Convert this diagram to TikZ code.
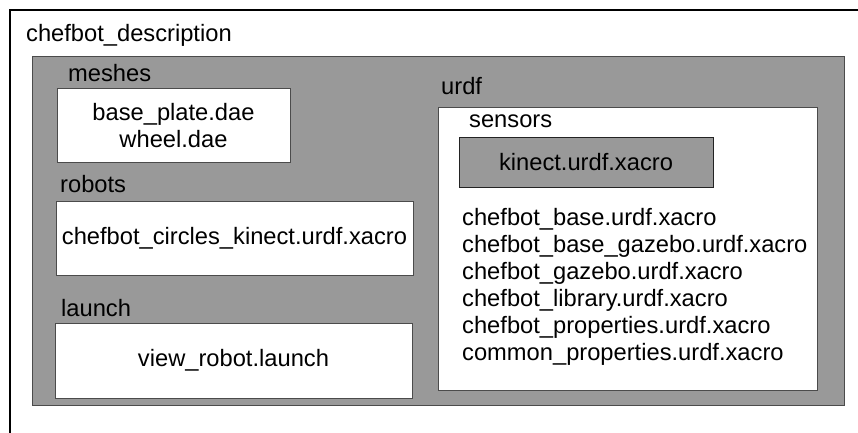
\documentclass[tikz,border=0pt]{standalone}
\usepackage{fontspec}
\setmainfont{Liberation Sans}
\usetikzlibrary{positioning}
\definecolor{boxgray}{RGB}{153,153,153}
\definecolor{edgegray}{RGB}{75,75,75}
\definecolor{edgedark}{RGB}{35,35,35}
\tikzset{
    txt/.style      = {font=\fontsize{23.7}{27}\selectfont, inner sep=0pt},
    dirname/.style  = {txt, anchor=base west},
    fileline/.style = {txt, anchor=base west},
    graybox/.style  = {draw=edgegray, fill=boxgray, line width=1pt, inner sep=0pt},
    whitebox/.style = {draw=edgegray, fill=white, line width=1pt,
            align=center, txt},
    sensorbox/.style = {draw=edgedark, fill=boxgray, line width=1pt,
            align=center, txt},
}

\begin{document}
\begin{tikzpicture}[x=1pt, y=-1pt]
    \useasboundingbox (0,0) rectangle (858,433);

    % outer folder frame
    \draw[black, line width=2pt] (10,433) -- (10,10) -- (858,10);
    \node[dirname] (descLbl) at (26,42) {chefbot\_description};

    % package area
    \node[graybox, minimum width=812, minimum height=348] (pkgBox) at (438,231) {};

    % meshes
    \node[dirname] (meshesLbl) at (68,82) {meshes};
    \node[whitebox, minimum width=233, minimum height=73] (meshesBox) at (173.5,125.5)
        {base\_plate.dae\\wheel.dae};

    % robots
    \node[dirname] (robotsLbl) at (60,192) {robots};
    \node[whitebox, minimum width=357, minimum height=74] (robotsBox) at (234.5,238)
        {chefbot\_circles\_kinect.urdf.xacro};

    % launch
    \node[dirname] (launchLbl) at (61,316) {launch};
    \node[whitebox, minimum width=357, minimum height=75] (launchBox) at (233.5,360.5)
        {view\_robot.launch};

    % urdf
    \node[dirname] (urdfLbl) at (441,95) {urdf};
    \node[whitebox, minimum width=379, minimum height=282] (urdfBox) at (627.5,249) {};
    \node[dirname] (sensorsLbl) at (469,127) {sensors};
    \node[sensorbox, minimum width=254, minimum height=50] (kinectBox) at (586,162)
        {kinect.urdf.xacro};

    % xacro files of urdf
    \foreach \f [count=\i from 0] in {chefbot\_base.urdf.xacro,
            chefbot\_base\_gazebo.urdf.xacro, chefbot\_gazebo.urdf.xacro,
            chefbot\_library.urdf.xacro, chefbot\_properties.urdf.xacro,
            common\_properties.urdf.xacro}
        \node[fileline] (file\i) at (462,225+27*\i) {\f};
\end{tikzpicture}
\end{document}
